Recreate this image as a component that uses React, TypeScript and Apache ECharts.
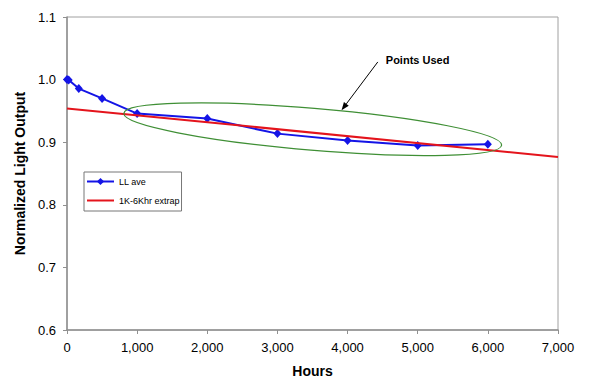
import React, { useEffect, useRef } from "react";
import * as echarts from "echarts";

const hours = [0, 24, 168, 500, 1000, 2000, 3000, 4000, 5000, 6000];
const llAve = [1.0, 0.9995, 0.9856, 0.970, 0.9457, 0.9377, 0.9137, 0.9026, 0.8946, 0.8966];
const extrapHours = [0, 7000];
const extrapValues = [0.954, 0.8765];
const xTicks = { min: 0, max: 7000, interval: 1000 };
const yTicks = { min: 0.6, max: 1.1, interval: 0.1 };

// annotation anchors in data coordinates
const ellipseLeft = [809, 0.9462];
const ellipseRight = [6197, 0.8951];
const arrowStart = [4431, 1.0282];
const arrowEnd = [3914, 0.951];
const labelAnchor = [4545, 1.0308];

const FONT = "'Liberation Sans', Arial, Helvetica, sans-serif";

export default function App() {
  const ref = useRef<HTMLDivElement>(null);
  useEffect(() => {
    if (!ref.current) return;
    const chart = echarts.init(ref.current, null, { renderer: "svg" });
    const option: any = {
      animation: false,
      backgroundColor: "#fff",
      textStyle: { fontFamily: FONT },
      grid: {
        left: 67,
        top: 17,
        right: 33,
        bottom: 59,
        show: true,
        borderColor: "#a0a0a0",
        borderWidth: 1,
        backgroundColor: "transparent",
      },
      legend: {
        orient: "vertical",
        left: 84,
        top: 172,
        padding: [5, 2, 6, 2],
        itemGap: 10,
        itemWidth: 27,
        itemHeight: 9,
        borderColor: "#777",
        borderWidth: 1,
        backgroundColor: "#fff",
        textStyle: { fontFamily: FONT, fontSize: 9, color: "#000" },
        data: [
          { name: "LL ave" },
          { name: "1K-6Khr extrap", itemStyle: { opacity: 0 } },
        ],
      },
      xAxis: {
        type: "value",
        min: xTicks.min,
        max: xTicks.max,
        interval: xTicks.interval,
        name: "Hours",
        nameLocation: "middle",
        nameGap: 34,
        nameTextStyle: { fontFamily: FONT, fontSize: 14, fontWeight: "bold", color: "#000" },
        axisLine: { lineStyle: { color: "#909090", width: 1.5 } },
        axisTick: { show: true, length: 4, lineStyle: { color: "#909090" } },
        axisLabel: {
          fontFamily: FONT,
          fontSize: 13,
          color: "#000",
          margin: 11,
          formatter: (v: number) => v.toLocaleString("en-US"),
        },
        splitLine: { show: false },
      },
      yAxis: {
        type: "value",
        min: yTicks.min,
        max: yTicks.max,
        interval: yTicks.interval,
        name: "Normalized Light Output",
        nameLocation: "middle",
        nameGap: 36,
        nameTextStyle: { fontFamily: FONT, fontSize: 14, fontWeight: "bold", color: "#000" },
        axisLine: { show: true, lineStyle: { color: "#909090", width: 1.5 } },
        axisTick: { show: true, length: 4, lineStyle: { color: "#909090" } },
        axisLabel: {
          fontFamily: FONT,
          fontSize: 13,
          color: "#000",
          margin: 11,
          formatter: (v: number) => v.toFixed(1),
        },
        splitLine: { show: false },
      },
      series: [
        {
          name: "LL ave",
          type: "line",
          data: hours.map((h, i) => [h, llAve[i]]),
          symbol: "diamond",
          symbolSize: [8, 9],
          showAllSymbol: true,
          itemStyle: { color: "#1414e6" },
          lineStyle: { color: "#1414e6", width: 2 },
          z: 3,
        },
        {
          name: "1K-6Khr extrap",
          type: "line",
          data: extrapHours.map((h, i) => [h, extrapValues[i]]),
          symbol: "none",
          itemStyle: { color: "#e4141c" },
          lineStyle: { color: "#e4141c", width: 2 },
          z: 4,
        },
      ],
    };
    chart.setOption(option);

    const px = (p: number[]) => chart.convertToPixel({ gridIndex: 0 }, p) as number[];
    const L = px(ellipseLeft);
    const R = px(ellipseRight);
    const cx = (L[0] + R[0]) / 2;
    const cy = (L[1] + R[1]) / 2;
    const rx = Math.hypot(R[0] - L[0], R[1] - L[1]) / 2;
    const ang = Math.atan2(R[1] - L[1], R[0] - L[0]);
    const A = px(arrowStart);
    const B = px(arrowEnd);
    const len = Math.hypot(B[0] - A[0], B[1] - A[1]);
    const ux = (B[0] - A[0]) / len;
    const uy = (B[1] - A[1]) / len;
    const hl = 8;
    const hw = 3;
    const base = [B[0] - ux * hl, B[1] - uy * hl];
    const T = px(labelAnchor);

    chart.setOption({
      graphic: [
        {
          type: "ellipse",
          x: cx,
          y: cy,
          rotation: -ang,
          shape: { cx: 0, cy: 0, rx: rx, ry: 21 },
          style: { fill: "none", stroke: "#3f8f35", lineWidth: 1.2 },
          z: 10,
          silent: true,
        },
        {
          type: "line",
          shape: { x1: A[0], y1: A[1], x2: base[0], y2: base[1] },
          style: { stroke: "#000", lineWidth: 1 },
          z: 10,
          silent: true,
        },
        {
          type: "polygon",
          shape: {
            points: [
              [B[0], B[1]],
              [base[0] - uy * hw, base[1] + ux * hw],
              [base[0] + uy * hw, base[1] - ux * hw],
            ],
          },
          style: { fill: "#000" },
          z: 10,
          silent: true,
        },
        {
          type: "text",
          x: T[0],
          y: T[1],
          style: {
            text: "Points Used",
            fill: "#000",
            font: "bold 11px " + FONT,
            textAlign: "left",
            textVerticalAlign: "middle",
          },
          z: 10,
          silent: true,
        },
      ],
    });

    return () => chart.dispose();
  }, []);
  return (
    <div
      ref={ref}
      style={{ position: "fixed", left: 0, top: 0, width: 591, height: 389 }}
    />
  );
}
